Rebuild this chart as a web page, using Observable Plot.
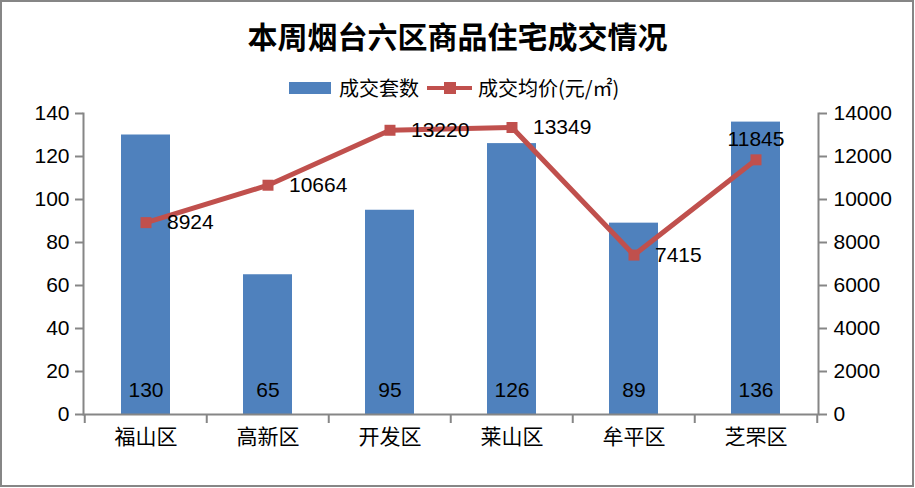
<!DOCTYPE html>
<html>
<head>
<meta charset="utf-8">
<script src="https://cdn.jsdelivr.net/npm/d3@7"></script>
<script src="https://cdn.jsdelivr.net/npm/@observablehq/plot@0.6"></script>
<style>
  html, body { margin: 0; padding: 0; background: #fff; }
  #wrap { position: relative; width: 915px; height: 488px; background: #fff; overflow: hidden;
          font-family: "Liberation Sans", "Noto Sans CJK SC", sans-serif; }
  #border { position: absolute; left: 0; top: 0; width: 914px; height: 487px; box-sizing: border-box;
            border: 2px solid #868686; pointer-events: none; z-index: 5; }
  #title { position: absolute; left: 0; width: 915px; top: 20px; text-align: center;
           font: bold 30px/30px "Noto Sans CJK SC", sans-serif; color: #000; z-index: 2; }
  #legend { position: absolute; left: 289px; top: 77px; height: 22px; display: flex; align-items: center;
            font: 20px/22px "Noto Sans CJK SC", "Liberation Sans", sans-serif; color: #000; z-index: 2; }
  .sw-bar { width: 42px; height: 12px; background: #4F81BD; margin-right: 8px; }
  .sw-line { position: relative; width: 45px; height: 12px; margin: 0 6px 0 8px; }
  .sw-line::before { content: ""; position: absolute; left: 0; right: 0; top: 4px; height: 4px; background: #C0504D; }
  .sw-line::after { content: ""; position: absolute; left: 17px; top: 0; width: 12px; height: 12px; background: #C0504D; }
  #chart { position: absolute; left: 0; top: 0; z-index: 1; }
</style>
</head>
<body>
<div id="wrap">
  <div id="title">本周烟台六区商品住宅成交情况</div>
  <div id="legend">
    <div class="sw-bar"></div><span>成交套数</span>
    <div class="sw-line"></div><span>成交均价(元/㎡)</span>
  </div>
  <div id="chart"></div>
  <div id="border"></div>
</div>
<script>
const categories = ["福山区", "高新区", "开发区", "莱山区", "牟平区", "芝罘区"];
const units = [130, 65, 95, 126, 89, 136];
const prices = [8924, 10664, 13220, 13349, 7415, 11845];
const leftTicks = [0, 20, 40, 60, 80, 100, 120, 140];
const rightTicks = [0, 2000, 4000, 6000, 8000, 10000, 12000, 14000];

const data = categories.map((c, i) => ({category: c, units: units[i], price: prices[i]}));
const ratio = rightTicks[rightTicks.length - 1] / leftTicks[leftTicks.length - 1];

const W = 915, H = 488, mL = 83, mR = 97, mT = 113, mB = 74;
const halfStep = (W - mL - mR) / categories.length / 2;
const axisColor = "#868686";
const lineColor = "#C0504D";
const fontFam = "'Liberation Sans', 'Noto Sans CJK SC', sans-serif";

const chart = Plot.plot({
  width: W, height: H,
  marginTop: mT, marginBottom: mB, marginLeft: mL, marginRight: mR,
  style: {fontFamily: fontFam, fontSize: "21px", color: "#000", background: "transparent", overflow: "visible"},
  x: {domain: categories, paddingInner: 0.6, paddingOuter: 0.3, label: null},
  y: {domain: [leftTicks[0], leftTicks[leftTicks.length - 1]], label: null},
  marks: [
    Plot.barY(data, {x: "category", y: "units", fill: "#4F81BD"}),
    Plot.frame({anchor: "left", stroke: axisColor, strokeWidth: 2}),
    Plot.frame({anchor: "right", stroke: axisColor, strokeWidth: 2}),
    Plot.ruleY([0], {stroke: axisColor, strokeWidth: 2}),
    Plot.axisY({ticks: leftTicks, anchor: "left", label: null, tickSize: 8, tickPadding: 6, stroke: axisColor, strokeWidth: 2, fontSize: 21}),
    Plot.axisY({ticks: leftTicks, anchor: "right", label: null, tickSize: 8, tickPadding: 7, stroke: axisColor, strokeWidth: 2, fontSize: 21,
                tickFormat: (d) => String(rightTicks[leftTicks.indexOf(d)])}),
    Plot.axisX({anchor: "bottom", label: null, tickSize: 0, tickPadding: 15, fontSize: 21, fontFamily: "'Noto Sans CJK SC', sans-serif"}),
    Plot.axisX({ticks: categories, anchor: "bottom", label: null, tickSize: 9, dx: -halfStep, tickFormat: () => "", stroke: axisColor, strokeWidth: 2}),
    Plot.axisX({ticks: categories.slice(-1), anchor: "bottom", label: null, tickSize: 9, dx: halfStep, tickFormat: () => "", stroke: axisColor, strokeWidth: 2}),
    Plot.text(data, {x: "category", y: 0, text: (d) => String(d.units), dy: -24, fontSize: 21, fill: "#000"}),
    Plot.line(data, {x: "category", y: (d) => d.price / ratio, stroke: lineColor, strokeWidth: 5}),
    Plot.dot(data, {x: "category", y: (d) => d.price / ratio, symbol: "square", r: 6.2, fill: lineColor, stroke: "none"}),
    Plot.text(data, {filter: (d, i) => i < data.length - 1, x: "category", y: (d) => d.price / ratio,
                     text: (d) => String(d.price), dx: 21, textAnchor: "start", fontSize: 21, fill: "#000"}),
    Plot.text(data, {filter: (d, i) => i === data.length - 1, x: "category", y: (d) => d.price / ratio,
                     text: (d) => String(d.price), dy: -21, fontSize: 21, fill: "#000"})
  ]
});
document.getElementById("chart").appendChild(chart);
</script>
</body>
</html>
